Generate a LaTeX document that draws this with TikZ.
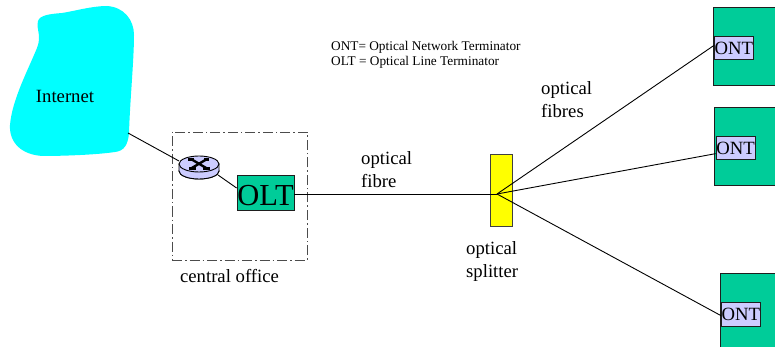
\documentclass[tikz,border=0pt]{standalone}
\usepackage{fontspec}
\setmainfont{Liberation Serif}
\usetikzlibrary{shapes.geometric}
\definecolor{grn}{RGB}{0,204,153}
\definecolor{lav}{RGB}{204,204,255}
\definecolor{cyn}{RGB}{0,255,255}
\definecolor{yel}{RGB}{255,255,0}
\definecolor{edge}{RGB}{30,30,30}
\tikzset{
  lbl/.style={inner sep=0pt,align=center,font=\fontsize{18.7}{23}\selectfont},
  wire/.style={draw=black,line width=0.9pt},
  house/.style={draw=edge,fill=grn,line width=0.8pt,inner sep=0pt,minimum height=78pt,minimum width=80pt},
  ontbox/.style={draw=edge,fill=lav,line width=0.8pt,inner sep=0pt,minimum width=39pt,minimum height=23.5pt,font=\fontsize{18.7}{20}\selectfont},
  rarrow/.style={line width=2.4pt,black},
  rhead/.style={line width=3.6pt,black}
}
\begin{document}
\begin{tikzpicture}[x=1pt,y=-1pt]
\useasboundingbox[fill=white] (0,0) rectangle (775,347);
% cloud
\path[fill=cyn] (38,21)
  .. controls (40,15) and (50,14) .. (62,13)
  .. controls (75,11) and (92,6) .. (107,6)
  .. controls (124,7) and (134,20) .. (134,35)
  .. controls (134,60) and (130,100) .. (129,133)
  .. controls (128,145) and (124,151) .. (115,152)
  .. controls (95,155) and (60,156) .. (43,156)
  .. controls (22,155) and (9,143) .. (10,125)
  .. controls (12,100) and (28,70) .. (37,48)
  .. controls (42,35) and (36,30) .. (38,21) -- cycle;
\node[lbl] (inet) at (65,96.5) {Internet};
\coordinate (inetport) at (128,133);
% central office
\node[draw=black!70,line width=0.9pt,dash pattern=on 10pt off 3pt on 1.5pt off 3pt,minimum width=135pt,minimum height=128pt,inner sep=0pt] (office) at (239.5,196) {};
\node[lbl,anchor=base] (officelbl) at (229.5,282) {central office};
% OLT
\node[draw=edge,fill=grn,line width=0.8pt,inner sep=0pt,minimum width=57pt,minimum height=35pt] (olt) at (265.5,193) {};
\node[inner sep=0pt,font=\fontsize{30.5}{31}\selectfont] (olttext) at (265.5,195.5) {OLT};
% splitter
\node[draw=black!75,fill=yel,line width=0.8pt,inner sep=0pt,minimum width=22pt,minimum height=72pt] (split) at (501,190) {};
\coordinate (hub) at (497,194);
% houses
\node[house,anchor=north west] (h1) at (713,7) {};
\node[house,anchor=north west] (h2) at (714.2,107) {};
\node[house,anchor=north west] (h3) at (720.2,273) {};
\node[ontbox,anchor=north west] (ont1) at (714,36) {ONT};
\node[ontbox,anchor=north west] (ont2) at (715.6,136) {ONT};
\node[ontbox,anchor=north west] (ont3) at (721,302) {ONT};
% wires
\coordinate (routerl) at (179,161);
\draw[wire] (inetport) -- (routerl);
\draw[wire] (olt.east |- hub) -- (hub);
\draw[wire] (hub) -- ([yshift=2.75pt]ont1.west);
\draw[wire] (hub) -- ([yshift=-5.5pt]ont2.west);
\draw[wire] (hub) -- ([yshift=-1.5pt]ont3.west);
% router
\coordinate (routerr) at (218,175);
\draw[wire] (routerr) -- ([yshift=5pt]olt.west);
\node[ellipse,draw=black,fill=lav,line width=0.9pt,minimum width=40pt,minimum height=16pt,inner sep=0pt] (rbase) at (199,171) {};
\path[draw=black,fill=lav,line width=0.9pt] (179,164) -- (179,171) arc[start angle=180,end angle=360,x radius=20pt,y radius=8pt] -- (219,164) -- cycle;
\node[ellipse,draw=black,fill=lav,line width=0.9pt,minimum width=40pt,minimum height=16pt,inner sep=0pt] (rtop) at (199,164) {};
\draw[rarrow] (191,159) -- (207,168.5);
\draw[rarrow] (191,168.5) -- (207,159);
\draw[rhead] (188,159.5) -- (194,159.5);
\draw[rhead] (189,168.5) -- (196,168.5);
\draw[rhead] (204,159.5) -- (209,159.5);
\draw[rhead] (203,168.5) -- (210,168.5);
% labels
\node[lbl,anchor=base west,align=left] (fibre) at (361,188) {optical\\fibre};
\node[lbl,anchor=base west,align=left] (fibres) at (541,118) {optical\\fibres};
\node[lbl,anchor=base west,align=left] (splitlbl) at (466,277) {optical\\splitter};
\node[anchor=base west,inner sep=0pt,align=left,font=\fontsize{13.3}{15.5}\selectfont] (note) at (331,66) {ONT= Optical Network Terminator\\OLT = Optical Line Terminator};
\end{tikzpicture}
\end{document}
